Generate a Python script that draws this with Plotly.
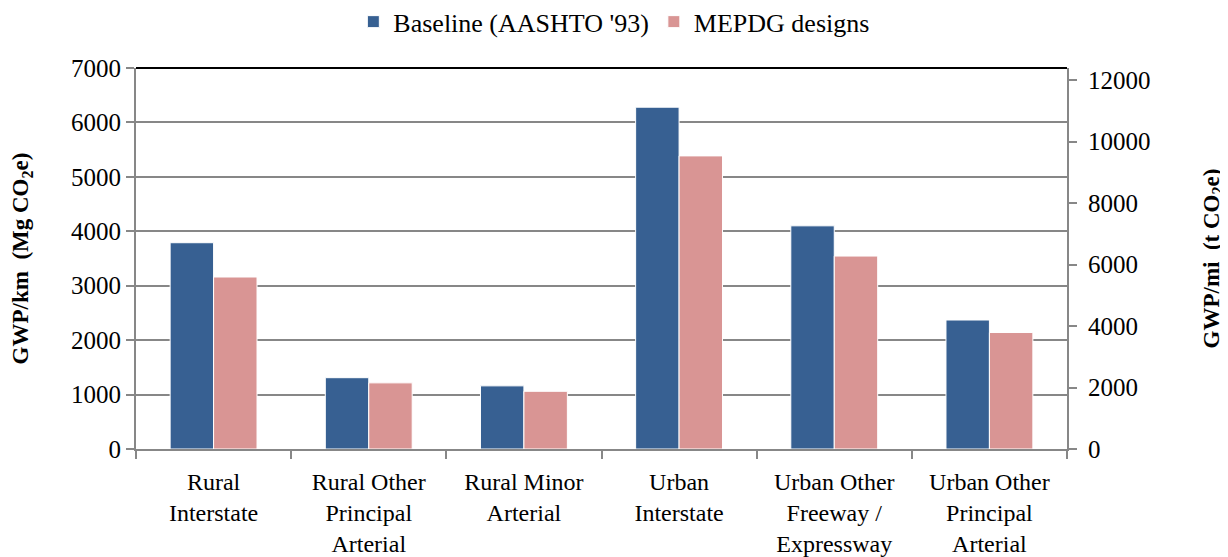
import plotly.graph_objects as go

BLUE = '#376092'
PINK = '#D99594'
GRID = '#878787'
FONT = 'Liberation Serif, Times New Roman, serif'

categories = [
    "Rural<br>Interstate",
    "Rural Other<br>Principal<br>Arterial",
    "Rural Minor<br>Arterial",
    "Urban<br>Interstate",
    "Urban Other<br>Freeway /<br>Expressway",
    "Urban Other<br>Principal<br>Arterial",
]
baseline = [3790, 1310, 1160, 6280, 4100, 2370]
mepdg = [3160, 1215, 1060, 5385, 3545, 2140]

left_ticks = list(range(0, 7001, 1000))
right_ticks = list(range(0, 12001, 2000))

fig = go.Figure()
fig.add_trace(go.Bar(
    x=categories, y=baseline, name="Baseline (AASHTO '93)",
    marker=dict(color=BLUE, line=dict(color='white', width=1)),
))
fig.add_trace(go.Bar(
    x=categories, y=mepdg, name="MEPDG designs",
    marker=dict(color=PINK, line=dict(color='white', width=1)),
))
# invisible trace so the secondary (per-mile) axis is drawn
fig.add_trace(go.Scatter(
    x=categories, y=[None] * len(categories), yaxis='y2',
    showlegend=False, hoverinfo='skip', mode='markers',
))

# page body has an 8px margin at top/left, so shrink the figure to fit the window
fig.update_layout(
    width=1220, height=549,
    paper_bgcolor='white', plot_bgcolor='white',
    font=dict(family=FONT, size=25, color='black'),
    margin=dict(l=128, r=161, t=60, b=108),
    barmode='group', bargap=0.44, bargroupgap=0,
    legend=dict(
        orientation='h', x=0.497, xref='container', xanchor='center',
        y=0.975, yref='container', yanchor='middle',
        font=dict(size=26), itemwidth=30,
    ),
    xaxis=dict(
        showline=True, linecolor=GRID, linewidth=2,
        ticks='outside', tickson='boundaries', ticklen=8, tickcolor=GRID,
        tickwidth=2, tickfont=dict(size=24), ticklabelstandoff=10,
        automargin=False,
    ),
    yaxis=dict(
        range=[0, 7000], tickvals=left_ticks,
        showgrid=True, gridcolor=GRID, gridwidth=1.5,
        showline=True, linecolor=GRID, linewidth=2,
        ticks='outside', ticklen=8, tickcolor=GRID, tickwidth=2,
        zeroline=False, tickformat='d', automargin=False,
        title=dict(text='<b>GWP/km  (Mg CO<sub>2</sub>e)</b>', standoff=40,
                   font=dict(size=23)),
    ),
    yaxis2=dict(
        overlaying='y', side='right',
        range=[0, 12400], tickvals=right_ticks,
        showgrid=False, zeroline=False, tickformat='d', automargin=False,
        showline=True, linecolor=GRID, linewidth=2,
        ticks='outside', ticklen=8, tickcolor=GRID, tickwidth=2,
        ticklabelstandoff=6,
        title=dict(text='<b>GWP/mi  (t CO<sub>2</sub>e)</b>', standoff=53,
                   font=dict(size=23)),
    ),
    shapes=[dict(type='line', xref='paper', yref='paper', x0=0, x1=1, y0=1, y1=1,
                 line=dict(color='black', width=2))],
)

fig.write_html("out.html")
